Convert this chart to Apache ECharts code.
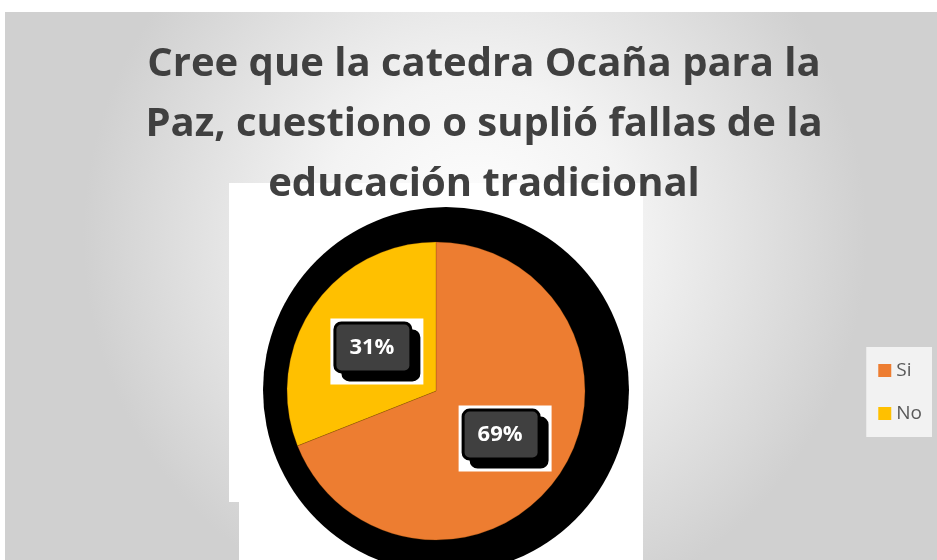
<!DOCTYPE html>
<html>
<head>
<meta charset="utf-8">
<script src="https://cdn.jsdelivr.net/npm/echarts@6/dist/echarts.min.js"></script>
<style>
  html, body { margin: 0; padding: 0; background: #fff; }
  #main { width: 937px; height: 560px; }
</style>
</head>
<body>
<div id="main"></div>
<script>
  // datos del grafico
  var titleText = 'Cree que la catedra Ocaña para la\nPaz, cuestiono o suplió fallas de la\neducación tradicional';
  var categories = ['Si', 'No'];
  var values = [69, 31];
  var colors = ['#ED7D31', '#FFC000'];

  var myChart = echarts.init(document.getElementById('main'));

  var pieData = [];
  for (var i = 0; i < categories.length; i++) {
    pieData.push({ name: categories[i], value: values[i], itemStyle: { color: colors[i] } });
  }

  var option = {
    animation: false,
    backgroundColor: '#ffffff',
    graphic: [
      {
        type: 'rect', z: -10, silent: true,
        shape: { x: 5, y: 12, width: 940, height: 560 },
        style: {
          fill: {
            type: 'radial', x: 0.5, y: 0.4, r: 0.7,
            colorStops: [
              { offset: 0, color: '#ffffff' },
              { offset: 0.4, color: '#f3f3f3' },
              { offset: 1, color: '#d0d0d0' }
            ]
          }
        }
      },
      {
        type: 'rect', z: -9, silent: true,
        shape: { x: 229, y: 183, width: 414, height: 319 },
        style: { fill: '#ffffff' }
      },
      {
        type: 'rect', z: -9, silent: true,
        shape: { x: 239, y: 500, width: 404, height: 60 },
        style: { fill: '#ffffff' }
      },
      {
        type: 'circle', z: -8, silent: true,
        shape: { cx: 446, cy: 390, r: 183 },
        style: { fill: '#000000' }
      }
    ],
    title: {
      text: titleText,
      left: 479,
      textAlign: 'center',
      top: 30,
      textStyle: {
        fontFamily: '"Open Sans", sans-serif',
        fontWeight: 'bold',
        fontSize: 40,
        lineHeight: 60,
        color: '#404040'
      }
    },
    legend: {
      orient: 'vertical',
      right: 5,
      top: 347,
      data: categories,
      icon: 'rect',
      itemWidth: 13,
      itemHeight: 13,
      itemGap: 24,
      padding: [14, 10, 14, 12],
      backgroundColor: '#f2f2f2',
      itemStyle: { borderWidth: 0 },
      textStyle: { fontSize: 19, color: '#595959', fontFamily: '"Open Sans", sans-serif' }
    },
    series: [
      {
        type: 'pie',
        center: [436, 391],
        radius: 149,
        startAngle: 90,
        clockwise: true,
        data: pieData,
        itemStyle: { borderColor: 'rgba(120,60,0,0.5)', borderWidth: 0.5 },
        emphasis: { disabled: true },
        labelLine: { show: false },
        label: {
          show: true,
          position: 'inside',
          offset: [5, 4],
          formatter: '{a|{d}%}',
          backgroundColor: '#ffffff',
          padding: [6, 14, 14, 6],
          rich: {
            a: {
              fontFamily: '"Open Sans", sans-serif',
              fontWeight: 'bold',
              fontSize: 22,
              color: '#ffffff',
              backgroundColor: '#404040',
              borderColor: '#000000',
              borderWidth: 3,
              borderRadius: 5,
              padding: [12, 15, 12, 13],
              shadowColor: '#000000',
              shadowOffsetX: 8,
              shadowOffsetY: 8
            }
          }
        }
      }
    ]
  };

  myChart.setOption(option);
</script>
</body>
</html>
